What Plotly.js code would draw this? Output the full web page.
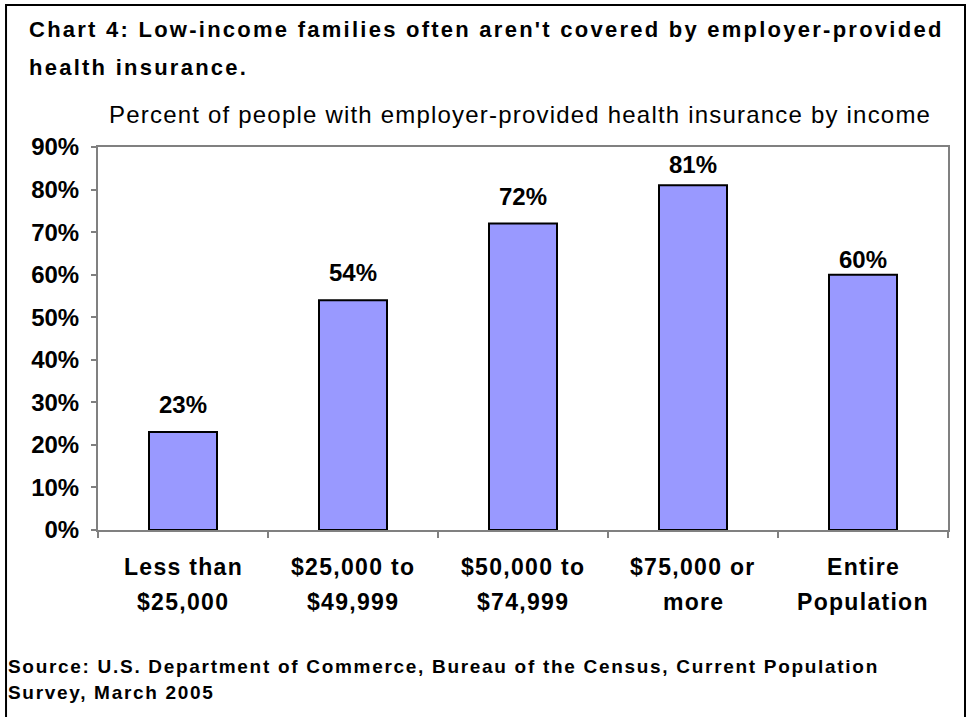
<!DOCTYPE html>
<html>
<head>
<meta charset="utf-8">
<script src="https://cdn.plot.ly/plotly-3.0.1.min.js"></script>
<style>
  html, body { margin: 0; padding: 0; background: #ffffff; }
  #chart { width: 967px; height: 717px; }
</style>
</head>
<body>
<div id="chart"></div>
<script>
// ---- data ----
var categories = ["Less than<br>$25,000", "$25,000 to<br>$49,999", "$50,000 to<br>$74,999", "$75,000 or<br>more", "Entire<br>Population"];
var values = [0.23, 0.54, 0.72, 0.81, 0.60];
var valueLabels = ["23%", "54%", "72%", "81%", "60%"];
var yTickVals = [0, 0.1, 0.2, 0.3, 0.4, 0.5, 0.6, 0.7, 0.8, 0.9];
var yTickText = ["0%", "10%", "20%", "30%", "40%", "50%", "60%", "70%", "80%", "90%"];
var titleLines = ["Chart 4: Low-income families often aren't covered by employer-provided", "health insurance."];
var subtitle = "Percent of people with employer-provided health insurance by income";
var sourceLines = ["Source: U.S. Department of Commerce, Bureau of the Census, Current Population", "Survey, March 2005"];

// ---- styling ----
var FONT = "Liberation Sans, Arial, Helvetica, sans-serif";
var labelPixelShift = [12, 12, 12, 5, 0]; // label offsets above bars, as in the original

function spaced(txt, px, bold) {
  var s = "<span style=\"letter-spacing:" + px + "px\">" + txt + "</span>";
  return bold ? "<b>" + s + "</b>" : s;
}

var trace = {
  type: "bar",
  x: categories,
  y: values,
  width: 0.4,
  marker: { color: "#9999FF", line: { color: "#000000", width: 2 } },
  hoverinfo: "skip"
};

var annotations = [];
// bar value labels
for (var i = 0; i < categories.length; i++) {
  annotations.push({
    x: categories[i], y: values[i], xref: "x", yref: "y",
    text: "<b>" + valueLabels[i] + "</b>", showarrow: false,
    xanchor: "center", yanchor: "bottom", yshift: labelPixelShift[i],
    font: { family: FONT, size: 24, color: "#000000" }
  });
}
// category labels (two lines each)
var catY = [-0.0966, -0.1880];
for (var i = 0; i < categories.length; i++) {
  var parts = categories[i].split("<br>");
  for (var j = 0; j < parts.length; j++) {
    annotations.push({
      x: categories[i], y: catY[j], xref: "x", yref: "paper",
      text: spaced(parts[j], 1.3, true), showarrow: false,
      xanchor: "center", yanchor: "middle",
      font: { family: FONT, size: 23, color: "#000000" }
    });
  }
}
// title lines
var titleY = [1.3055, 1.2063];
for (var k = 0; k < titleLines.length; k++) {
  annotations.push({
    x: -0.0835, y: titleY[k], xref: "paper", yref: "paper",
    text: spaced(titleLines[k], 2.25, true), showarrow: false,
    xanchor: "left", yanchor: "middle",
    font: { family: FONT, size: 22, color: "#000000" }
  });
}
// subtitle
annotations.push({
  x: 0.4965, y: 1.0860, xref: "paper", yref: "paper",
  text: spaced(subtitle, 1.2, false), showarrow: false, xanchor: "center", yanchor: "middle",
  font: { family: FONT, size: 24, color: "#000000" }
});
// source lines
var srcY = [-0.3577, -0.4230];
for (var k = 0; k < sourceLines.length; k++) {
  annotations.push({
    x: -0.108, y: srcY[k], xref: "paper", yref: "paper",
    text: spaced(sourceLines[k], 1.7, true), showarrow: false,
    xanchor: "left", yanchor: "middle",
    font: { family: FONT, size: 19, color: "#000000" }
  });
}

var layout = {
  width: 967, height: 717,
  margin: { l: 98, r: 19, t: 147, b: 187 },
  paper_bgcolor: "#ffffff",
  plot_bgcolor: "#ffffff",
  showlegend: false,
  font: { family: FONT, color: "#000000" },
  xaxis: {
    type: "category",
    showticklabels: false,
    ticks: "outside", tickson: "boundaries", ticklen: 6, tickwidth: 2, tickcolor: "#808080",
    showline: true, linecolor: "#808080", linewidth: 2, mirror: true,
    showgrid: false, zeroline: false, fixedrange: true
  },
  yaxis: {
    range: [0, 0.9],
    tickvals: yTickVals, ticktext: yTickText,
    ticks: "outside", ticklen: 5, tickwidth: 2, tickcolor: "#808080",
    ticklabelstandoff: 7,
    tickfont: { family: FONT, size: 24, color: "#000000", weight: "bold" },
    showline: true, linecolor: "#808080", linewidth: 2, mirror: true,
    showgrid: false, zeroline: false, fixedrange: true
  },
  annotations: annotations,
  shapes: [{
    type: "rect", xref: "paper", yref: "paper",
    x0: -0.1082, x1: 1.02, y0: -0.62, y1: 1.3708,
    line: { color: "#000000", width: 2 }, fillcolor: "rgba(0,0,0,0)", layer: "above"
  }]
};

Plotly.newPlot("chart", [trace], layout, { displayModeBar: false, staticPlot: true });
</script>
</body>
</html>
